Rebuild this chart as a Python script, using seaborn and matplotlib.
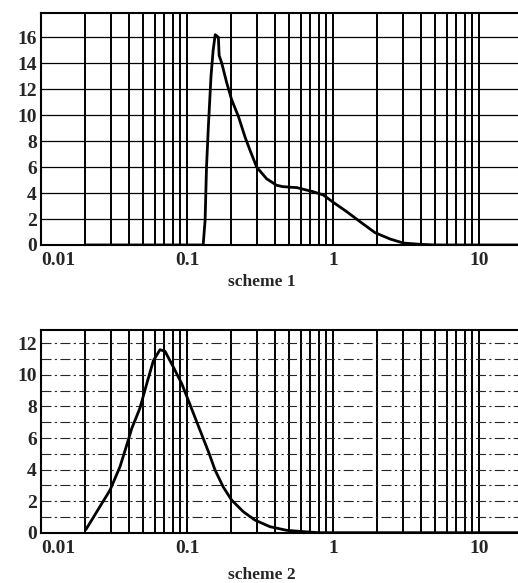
import numpy as np
import pandas as pd
import seaborn as sns
import matplotlib.pyplot as plt
from matplotlib.ticker import LogLocator, MultipleLocator, FixedLocator

# scheme 1 curve (x on log scale)
x1 = [0.02, 0.05, 0.1, 0.129, 0.133, 0.136, 0.140, 0.146, 0.151, 0.156, 0.164, 0.166,
      0.173, 0.187, 0.202, 0.225, 0.25, 0.27, 0.30, 0.351, 0.411, 0.45, 0.507, 0.564,
      0.733, 0.859, 1.0, 1.24, 1.53, 1.94, 2.46, 3.03, 3.94, 5.0, 10.0, 18.5]
y1 = [0, 0, 0, 0, 1.9, 6.0, 9.1, 13.0, 15.0, 16.2, 16.0, 14.6,
      14.0, 12.5, 11.2, 9.9, 8.3, 7.3, 6.0, 5.1, 4.6, 4.5, 4.45, 4.42,
      4.1, 3.85, 3.3, 2.57, 1.8, 0.95, 0.46, 0.15, 0.05, 0, 0, 0]

# scheme 2 curve
x2 = [0.0203, 0.0241, 0.0297, 0.0348, 0.0396, 0.0418, 0.0476, 0.053, 0.0588, 0.0653,
      0.0707, 0.0806, 0.092, 0.105, 0.1227, 0.142, 0.1556, 0.177, 0.202, 0.243,
      0.292, 0.370, 0.482, 0.66, 0.8, 2.0, 10.0, 18.5]
y2 = [0.2, 1.33, 2.7, 4.2, 5.87, 6.6, 7.9, 9.45, 10.9, 11.6,
      11.5, 10.5, 9.45, 8.1, 6.5, 5.0, 3.97, 2.9, 2.07, 1.33,
      0.8, 0.38, 0.15, 0.05, 0, 0, 0, 0]

xticks = [0.01, 0.1, 1, 10]
xticklabels = ['0.01', '0.1', '1', '10']
titles = ['scheme 1', 'scheme 2']

sns.set_style('white')
plt.rcParams['font.family'] = ['Liberation Serif', 'DejaVu Serif']
plt.rcParams['font.weight'] = 'bold'

fig = plt.figure(figsize=(5.18, 5.83), dpi=100)
ax1 = fig.add_axes([0.0792, 0.5798, 0.9208, 0.3979])
ax2 = fig.add_axes([0.0792, 0.0863, 0.9208, 0.3477])

df1 = pd.DataFrame({'x': x1, 'y': y1})
df2 = pd.DataFrame({'x': x2, 'y': y2})
sns.lineplot(data=df1, x='x', y='y', ax=ax1, color='black', lw=2.0, zorder=5)
sns.lineplot(data=df2, x='x', y='y', ax=ax2, color='black', lw=2.0, zorder=5)

for ax, ymax, title, ty in [(ax1, 17.87, titles[0], 0.516), (ax2, 12.85, titles[1], 0.014)]:
    ax.set_xscale('log')
    ax.set_xlim(0.01, 18.5)
    ax.set_ylim(0, ymax)
    ax.set_xlabel('')
    ax.set_ylabel('')
    ax.xaxis.set_major_locator(FixedLocator(xticks))
    ax.set_xticklabels(xticklabels)
    ax.xaxis.set_minor_locator(LogLocator(base=10, subs=np.arange(2, 10)))
    ax.xaxis.set_minor_formatter(plt.NullFormatter())
    ax.yaxis.set_major_locator(MultipleLocator(2))
    ax.tick_params(length=0, labelsize=14)
    ax.tick_params(axis='x', pad=5)
    ax.tick_params(axis='y', pad=3)
    for lab in ax.get_xticklabels() + ax.get_yticklabels():
        lab.set_fontweight('bold')
    ax.get_xticklabels()[0].set_ha('left')
    ax.grid(True, axis='x', which='both', color='black', lw=1.4)
    for s in ['left', 'bottom', 'top']:
        ax.spines[s].set_color('black')
        ax.spines[s].set_linewidth(1.5)
    ax.spines['right'].set_visible(False)
    fig.text(0.505, ty, title, ha='center', va='center', fontsize=12.5, fontweight='bold')

ax1.grid(True, axis='y', which='major', color='black', lw=0.9)
ax2.yaxis.set_minor_locator(MultipleLocator(1))
ax2.grid(True, axis='y', which='both', color='0.15', lw=0.8, linestyle=(0, (9, 3, 2, 3)))

fig.savefig('out.png', dpi=100)
